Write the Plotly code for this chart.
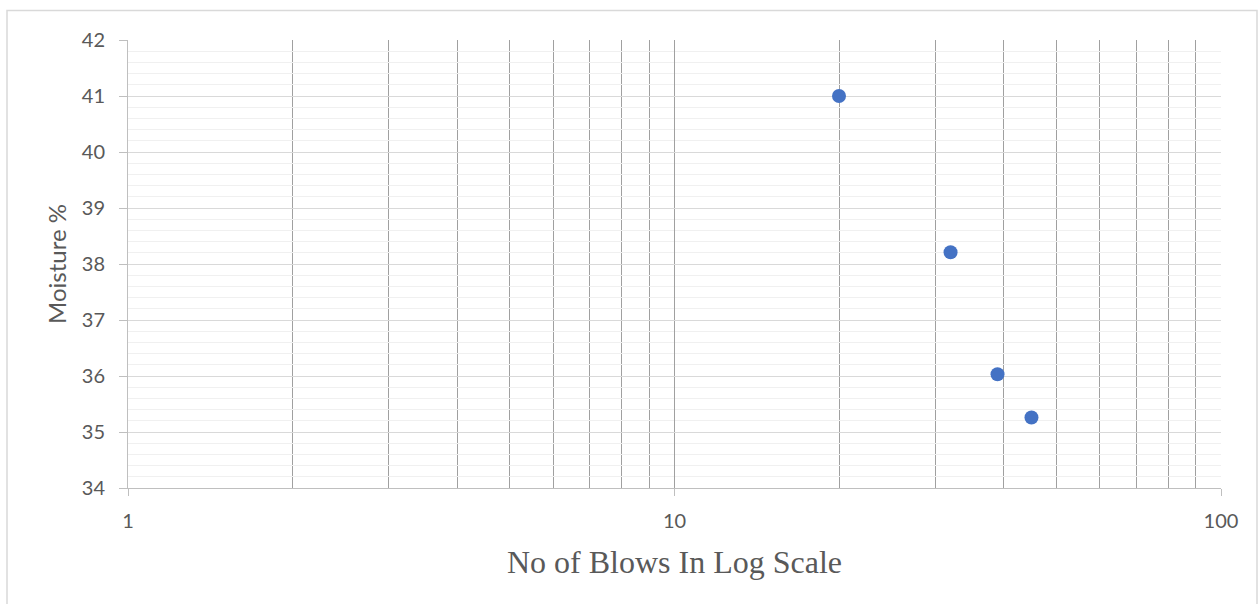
import plotly.graph_objects as go

blows = [20, 32, 39, 45]
moisture = [41.0, 38.21, 36.03, 35.26]
x_major_ticks = [1, 10, 100]
x_minor_ticks = [2, 3, 4, 5, 6, 7, 8, 9, 20, 30, 40, 50, 60, 70, 80, 90]
y_ticks = [34, 35, 36, 37, 38, 39, 40, 41, 42]

W, H = 1258, 604
L, R, T, B = 128, 37, 40, 116
pw, ph = W - L - R, H - T - B

fig = go.Figure()
fig.add_trace(go.Scatter(
    x=blows, y=moisture, mode="markers",
    marker=dict(color="#4472c4", size=14, line=dict(width=0)),
    showlegend=False, cliponaxis=False,
))

tickfont = dict(family="Lato, Open Sans, sans-serif", size=20, color="#595959")

fig.update_layout(
    width=W, height=H,
    margin=dict(l=L, r=R, t=T, b=B, pad=0),
    paper_bgcolor="white", plot_bgcolor="white",
    xaxis=dict(
        type="log", range=[0, 2],
        tickmode="array", tickvals=x_major_ticks, ticktext=[str(v) for v in x_major_ticks],
        ticks="outside", ticklen=7, tickcolor="#bfbfbf", tickwidth=1,
        ticklabelstandoff=8,
        tickfont=tickfont,
        showgrid=True, gridcolor="#a0a0a0", gridwidth=1.2,
        minor=dict(tickmode="array", tickvals=x_minor_ticks, showgrid=True,
                   gridcolor="#a0a0a0", gridwidth=1.2, ticks=""),
        showline=True, linecolor="#bfbfbf", linewidth=1,
        zeroline=False,
        title=dict(text="No of Blows In Log Scale",
                   font=dict(family="Liberation Serif, Times New Roman, serif", size=32, color="#595959"),
                   standoff=19),
    ),
    yaxis=dict(
        range=[34, 42],
        tickmode="array", tickvals=y_ticks,
        ticks="outside", ticklen=8, tickcolor="#bfbfbf", tickwidth=1,
        ticklabelstandoff=10,
        tickfont=tickfont,
        showgrid=True, gridcolor="#d9d9d9", gridwidth=1,
        minor=dict(dtick=0.2, tick0=34, showgrid=True, gridcolor="#f0f0f0", gridwidth=1, ticks=""),
        showline=True, linecolor="#bfbfbf", linewidth=1,
        zeroline=False,
        title=dict(text="Moisture %",
                   font=dict(family="Lato, Open Sans, sans-serif", size=24, color="#595959"),
                   standoff=8),
    ),
    shapes=[dict(
        type="rect", xref="paper", yref="paper",
        x0=(7 - L) / pw, x1=(1257 - L) / pw,
        y0=(H - B - 640) / ph, y1=(H - B - 10.5) / ph,
        line=dict(color="#d9d9d9", width=1.5), fillcolor="rgba(0,0,0,0)", layer="below",
    )],
)

fig.write_html("out.html", config={"displayModeBar": False},
               post_script="document.body.style.margin='0';document.body.style.overflow='hidden';")
